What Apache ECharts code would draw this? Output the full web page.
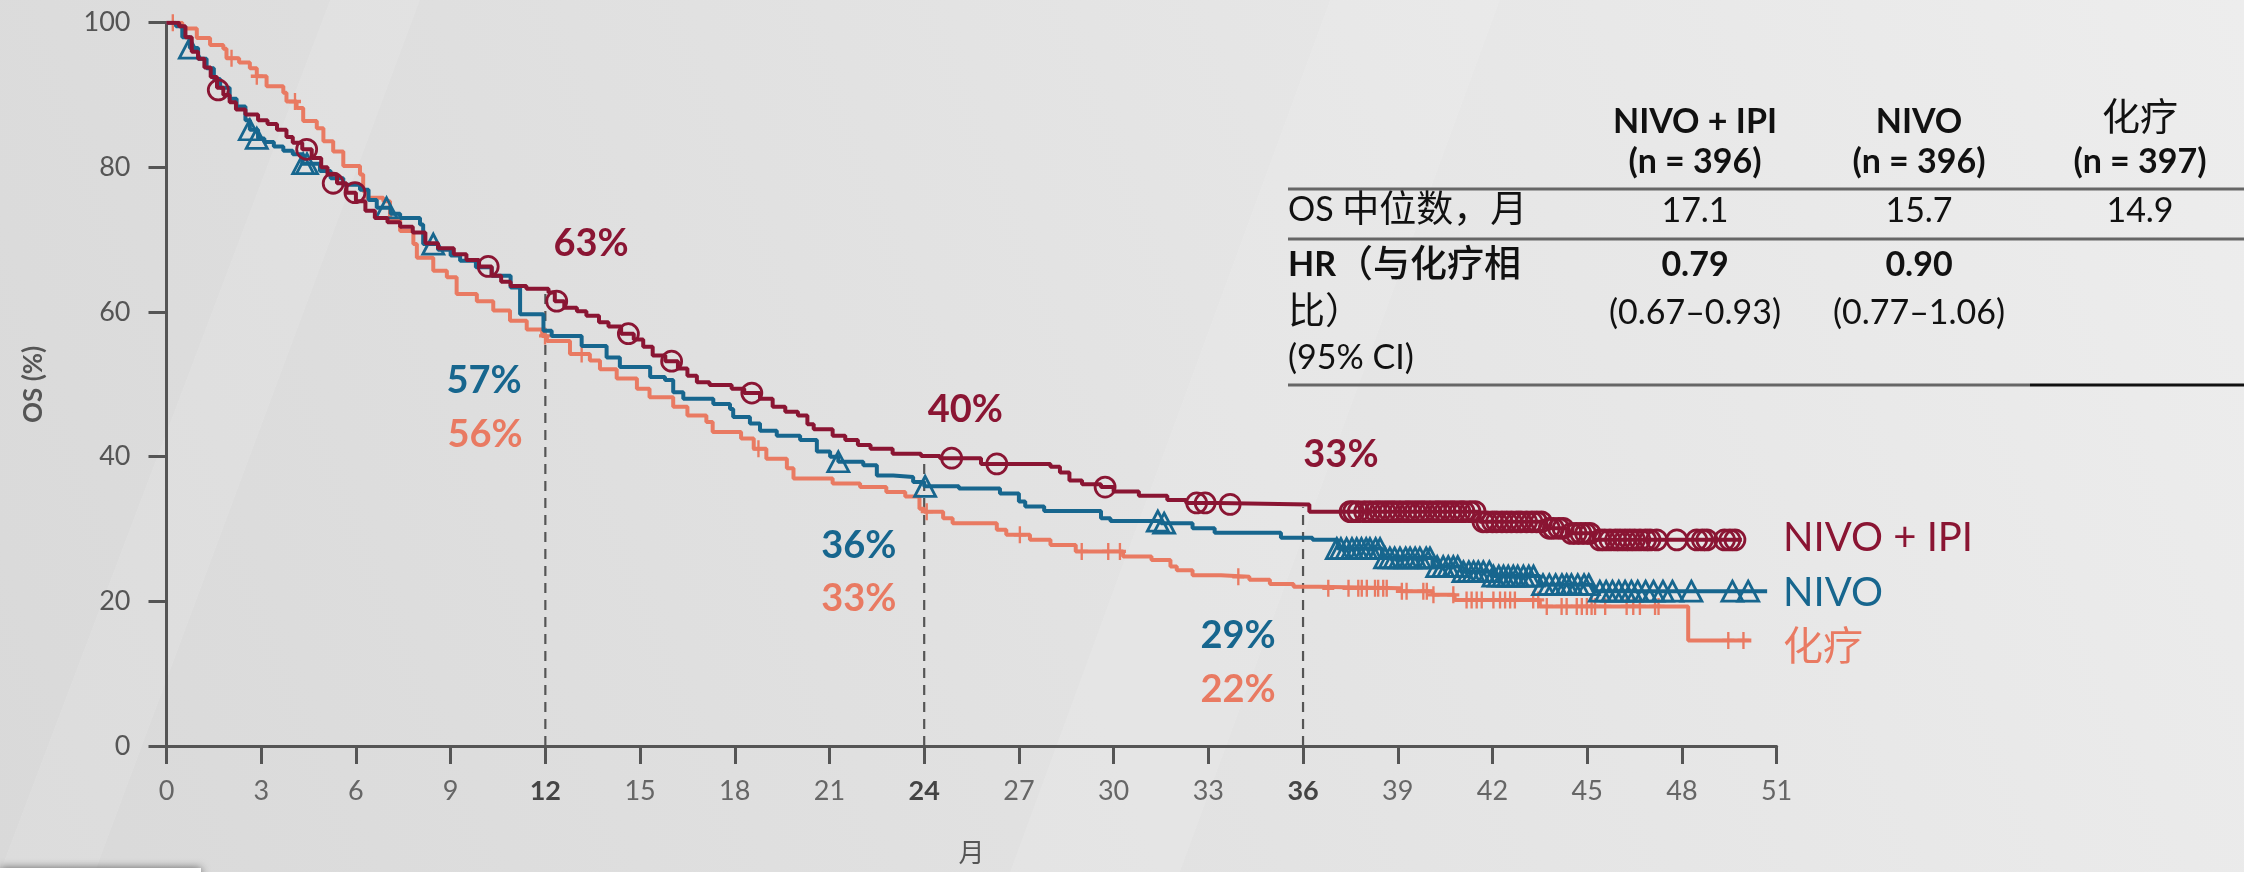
<!DOCTYPE html>
<html>
<head>
<meta charset="utf-8">
<script src="https://cdn.jsdelivr.net/npm/echarts@6/dist/echarts.min.js"></script>
<style>
  html, body { margin: 0; padding: 0; }
  #chart { width: 2244px; height: 872px; }
</style>
</head>
<body>
<div id="chart"></div>
<script>
// KM curves: [month, OS %] after each drop
const ipiCurve = [[0,100],[0.4,99.5],[0.6,98],[0.8,96],[1.0,95],[1.2,93.8],[1.4,92.5],[1.6,91],[1.8,90],[2.0,89],[2.2,88],[2.5,87.3],[2.9,86.5],[3.2,86],[3.5,85.2],[3.8,84.2],[4.0,83.4],[4.3,82.5],[4.6,81.3],[4.9,80],[5.1,79],[5.4,77.8],[5.7,76.5],[6.0,75.3],[6.3,74],[6.6,73],[7.0,72.4],[7.4,71.8],[7.8,71],[8.2,69.5],[8.6,68.8],[9.1,68],[9.5,67.2],[9.9,66.3],[10.3,65],[10.6,64.2],[10.9,63.6],[11.4,63.2],[12.1,62.7],[12.3,61.5],[12.6,60.6],[13.0,60.1],[13.3,59.5],[13.7,58.6],[14.0,58],[14.4,57],[14.8,56.2],[15.1,55.2],[15.4,54],[15.8,53.2],[16.2,52.2],[16.5,51.2],[16.8,50.3],[17.2,49.9],[17.9,49.4],[18.3,48.8],[18.8,48],[19.2,46.9],[19.6,46.2],[20.0,45.7],[20.3,44.5],[20.5,43.8],[21.1,42.9],[21.5,42.3],[21.9,41.6],[22.3,41.1],[23.0,40.4],[23.9,40.1],[24.5,39.8],[25.8,39.0],[28.0,38.6],[28.3,37.8],[28.6,36.7],[29.0,36.2],[29.6,35.8],[30.0,35.2],[30.8,34.6],[31.7,34.0],[32.3,33.6],[33.3,33.4],[36.2,32.4],[41.6,31.0],[43.7,30.1],[44.4,29.4],[45.2,28.5],[49.9,28.5]];
const nivoCurve = [[0,100],[0.3,99.5],[0.5,98],[0.74,96.5],[1.0,95],[1.27,93.7],[1.5,92.2],[1.7,91],[2.0,89.5],[2.22,88.4],[2.5,86.5],[2.64,85.2],[2.9,84],[3.1,83.5],[3.4,82.9],[3.7,82.3],[4.0,81.8],[4.3,80.5],[4.86,79.5],[5.2,78.5],[5.6,77.6],[6.13,76.9],[6.4,75.5],[6.66,74.4],[7.1,73.6],[7.4,73],[8.03,72.1],[8.13,69.4],[8.6,68.6],[9.0,67.8],[9.3,67.1],[9.8,66.2],[10.3,65],[10.9,63.4],[11.2,59.7],[11.94,57.4],[12.2,56.7],[13.15,55.3],[13.94,53.7],[14.36,52.4],[15.32,51.0],[15.79,50.6],[16.05,48.9],[16.37,48.0],[17.32,47.3],[17.85,46.6],[17.95,45.5],[18.48,44.6],[18.8,43.6],[19.33,42.9],[20.07,42.3],[20.6,40.7],[21.02,40.0],[21.28,39.3],[22.07,38.8],[22.5,37.4],[23.02,37.2],[23.65,36.5],[24.0,35.9],[25.1,35.6],[26.4,34.9],[27.0,33.8],[27.2,33.1],[27.8,32.5],[29.6,31.5],[29.9,31.1],[31.5,30.8],[32.5,30.1],[33.2,29.5],[35.3,28.8],[36.3,28.5],[37.1,27.3],[38.5,26.0],[40.1,24.8],[41.0,24.1],[42.0,23.5],[43.5,22.3],[45.2,21.4],[50.7,21.4]];
const chemoCurve = [[0,100],[0.5,99.2],[0.96,97.9],[1.38,96.9],[1.8,96.4],[1.9,95.1],[2.3,94.5],[2.64,93.7],[2.86,92.6],[3.17,91.2],[3.7,90.3],[3.8,89.1],[4.12,88.2],[4.33,86.4],[4.76,85.4],[4.97,83.6],[5.28,82.2],[5.6,80.2],[6.13,79.0],[6.23,76.7],[6.34,75.8],[6.87,75.3],[7.08,72.8],[7.4,71.2],[7.82,69.4],[7.93,67.5],[8.45,65.7],[8.88,64.8],[9.19,62.5],[9.83,61.5],[10.35,60.2],[10.88,58.8],[11.41,57.6],[11.9,56.7],[12.05,56.0],[12.78,54.2],[13.41,53.3],[13.73,52.1],[14.26,50.8],[14.9,49.4],[15.3,48.2],[16.05,46.9],[16.5,45.7],[17.1,44.8],[17.3,43.4],[18.2,42.5],[18.6,41.1],[19.0,39.7],[19.65,38.4],[19.86,37.0],[21.1,36.3],[21.97,35.8],[22.8,35.1],[23.4,34.5],[23.85,32.8],[24.0,32.4],[24.6,31.5],[24.9,30.8],[26.3,29.9],[26.6,29.2],[27.35,28.5],[28.0,27.8],[28.8,26.9],[30.3,26.2],[31.2,25.7],[31.8,24.8],[32.0,24.3],[32.5,23.6],[33.4,23.4],[34.3,23.0],[34.95,22.4],[35.7,22.0],[36.5,21.8],[39.1,21.4],[40.1,20.9],[40.8,20.2],[43.5,19.3],[48.2,14.6],[50.2,14.6]];

// censored patients
const ipiCensor = [[1.64,90.7],[4.44,82.5],[5.28,77.8],[5.97,76.5],[10.19,66.3],[12.36,61.5],[14.63,57],[16.0,53.2],[18.54,48.8],[24.87,39.8],[26.3,39.0],[29.73,35.8],[32.63,33.6],[32.9,33.6],[33.69,33.4],
  [37.49,32.4],[37.6,32.4],[37.75,32.4],[37.95,32.4],[38.12,32.4],[38.3,32.4],[38.44,32.4],[38.6,32.4],[38.75,32.4],[38.9,32.4],[39.07,32.4],[39.25,32.4],[39.39,32.4],[39.55,32.4],[39.7,32.4],[39.85,32.4],[40.02,32.4],[40.2,32.4],[40.34,32.4],[40.5,32.4],[40.66,32.4],[40.8,32.4],[40.97,32.4],[41.1,32.4],[41.29,32.4],[41.45,32.4],
  [41.7,31.0],[41.82,31.0],[42.0,31.0],[42.13,31.0],[42.3,31.0],[42.45,31.0],[42.6,31.0],[42.77,31.0],[42.9,31.0],[43.08,31.0],[43.25,31.0],[43.4,31.0],[43.55,31.0],
  [43.8,30.1],[43.93,30.1],[44.1,30.1],[44.24,30.1],[44.5,29.4],[44.65,29.4],[44.8,29.4],[44.95,29.4],[45.09,29.4],
  [45.4,28.5],[45.55,28.5],[45.72,28.5],[45.9,28.5],[46.04,28.5],[46.2,28.5],[46.35,28.5],[46.5,28.5],[46.67,28.5],[46.85,28.5],[46.99,28.5],[47.2,28.5],[47.84,28.5],[48.47,28.5],[48.65,28.5],[48.79,28.5],[49.35,28.5],[49.52,28.5],[49.68,28.5]];
const nivoCensor = [[0.74,96.5],[2.64,85.2],[2.86,84],[4.33,80.5],[4.45,80.5],[6.97,74.4],[8.45,69.4],[21.28,39.3],[24.03,35.9],[31.4,31.1],[31.6,30.8],
  [37.07,27.3],[37.2,27.3],[37.38,27.3],[37.55,27.3],[37.7,27.3],[37.85,27.3],[38.0,27.3],[38.12,27.3],[38.3,27.3],[38.44,27.3],
  [38.6,26.0],[38.75,26.0],[38.9,26.0],[39.07,26.0],[39.25,26.0],[39.39,26.0],[39.55,26.0],[39.7,26.0],[39.9,26.0],[40.02,26.0],
  [40.25,24.8],[40.44,24.8],[40.6,24.8],[40.76,24.8],[40.9,24.8],[41.08,24.1],[41.25,24.1],[41.4,24.1],[41.55,24.1],[41.71,24.1],[41.9,24.1],
  [42.03,23.5],[42.2,23.5],[42.35,23.5],[42.5,23.5],[42.66,23.5],[42.8,23.5],[42.98,23.5],[43.15,23.5],[43.3,23.5],
  [43.6,22.3],[43.8,22.3],[44.0,22.3],[44.2,22.3],[44.35,22.3],[44.5,22.3],[44.7,22.3],[44.9,22.3],[45.05,22.3],
  [45.4,21.4],[45.6,21.4],[45.8,21.4],[46.0,21.4],[46.2,21.4],[46.4,21.4],[46.6,21.4],[46.85,21.4],[47.1,21.4],[47.4,21.4],[47.7,21.4],[48.3,21.4],[49.6,21.4],[50.1,21.4]];
const chemoCensor = [[0.2,100],[2.06,95.1],[2.86,92.6],[4.07,89.1],[11.99,56.7],[13.15,54.2],[18.75,41.1],[24.08,32.4],[27.03,29.2],[28.99,26.9],[29.83,26.9],[30.2,26.9],[33.95,23.4],
  [36.8,21.8],[37.44,21.8],[37.75,21.8],[37.86,21.8],[38.02,21.8],[38.28,21.8],[38.38,21.8],[38.54,21.8],[38.65,21.8],[39.13,21.4],[39.28,21.4],[39.81,21.4],[39.92,21.4],[40.13,20.9],[40.76,20.9],
  [41.18,20.2],[41.34,20.2],[41.5,20.2],[41.66,20.2],[42.03,20.2],[42.24,20.2],[42.4,20.2],[42.56,20.2],[42.71,20.2],[43.29,20.2],[43.45,20.2],
  [43.72,19.3],[44.19,19.3],[44.35,19.3],[44.67,19.3],[44.83,19.3],[44.99,19.3],[45.14,19.3],[45.25,19.3],[45.57,19.3],[46.25,19.3],[46.46,19.3],[46.67,19.3],[47.15,19.3],[47.26,19.3],
  [49.47,14.6],[49.95,14.6]];

// landmark rates at 12 / 24 / 36 months
const landmarks = [12, 24, 36];
const ipiRates = [63, 40, 33];
const nivoRates = [57, 36, 29];
const chemoRates = [56, 33, 22];

const armNames = ['NIVO + IPI', 'NIVO', '化疗'];
const armN = ['(n = 396)', '(n = 396)', '(n = 397)'];
const medianOS = ['17.1', '15.7', '14.9'];
const hrValues = ['0.79', '0.90'];
const hrCI = ['(0.67–0.93)', '(0.77–1.06)'];

const RED = '#8a1533', BLUE = '#17668e', SALMON = '#e97a62';
const FONT = 'Lato, "Noto Sans CJK SC", sans-serif';

// where the landmark labels sit (month, OS) per arm
const ipiNotePos = [[13.45, 69.5], [25.3, 46.5], [37.2, 40.3]];
const nivoNotePos = [[10.06, 50.5], [21.93, 27.7], [33.94, 15.3]];
const chemoNotePos = [[10.09, 43.0], [21.93, 20.3], [33.94, 7.8]];
const endLabelPos = [[51.2, 28.7], [51.2, 21.1], [51.2, 13.7]];

function notes(pos, rates) {
  return pos.map((p, i) => [p[0], p[1], rates[i]]);
}

const chart = echarts.init(document.getElementById('chart'));

const series = [];
landmarks.forEach((m, i) => {
  series.push({
    type: 'line', data: [[m, 0], [m, ipiRates[i]]], showSymbol: false, silent: true, z: 1,
    lineStyle: { color: '#555', width: 2.2, type: [10, 7] }
  });
});

function curve(data, color, z) {
  return { type: 'line', step: 'end', data: data, showSymbol: false, z: z,
    lineStyle: { color: color, width: 4 } };
}
function censor(data, color, symbol, size, z) {
  return { type: 'scatter', data: data, symbol: symbol, symbolSize: size, z: z,
    itemStyle: { color: 'rgba(0,0,0,0)', borderColor: color, borderWidth: 2.8, opacity: 1 } };
}
function noteSeries(data, color, fmt) {
  return { type: 'scatter', data: data, symbolSize: 0, z: 10, itemStyle: { opacity: 1 },
    label: { show: true, position: 'inside', formatter: fmt, color: color,
      fontFamily: FONT, fontWeight: 'bold', fontSize: 38 } };
}

series.push(curve(chemoCurve, SALMON, 2));
series.push(censor(chemoCensor, SALMON, 'path://M0,5H10M5,0V10', [12, 17], 2));
series.push(curve(nivoCurve, BLUE, 3));
series.push(censor(nivoCensor, BLUE, 'triangle', [21, 20], 3));
series.push(curve(ipiCurve, RED, 4));
series.push(censor(ipiCensor, RED, 'circle', 20, 4));
series.push(noteSeries(notes(ipiNotePos, ipiRates), RED, p => p.value[2] + '%'));
series.push(noteSeries(notes(nivoNotePos, nivoRates), BLUE, p => p.value[2] + '%'));
series.push(noteSeries(notes(chemoNotePos, chemoRates), SALMON, p => p.value[2] + '%'));
[RED, BLUE, SALMON].forEach((c, i) => {
  series.push({ type: 'scatter', data: [endLabelPos[i]], symbolSize: 0, z: 10, clip: false,
    itemStyle: { opacity: 1 },
    label: { show: true, position: 'right', distance: 0, formatter: armNames[i], color: c,
      fontFamily: FONT, fontSize: 40 } });
});

// table drawn with graphic elements
const colX = [1695, 1919, 2140];
const tLeft = 1288;
const base = { fontFamily: FONT, fontSize: 34, fill: '#111' };
const g = [];
function txt(text, x, y, extra) {
  g.push({ type: 'text', x: x, y: y, z: 20,
    style: Object.assign({ text: text, align: 'center', verticalAlign: 'middle' }, base, extra || {}) });
}
function hline(x1, x2, y, color, w) {
  g.push({ type: 'line', z: 20, shape: { x1: x1, y1: y, x2: x2, y2: y }, style: { stroke: color, lineWidth: w } });
}
armNames.forEach((n, i) => {
  if (i === 2) txt(n, colX[i], 118, { fontSize: 38 });
  else txt(n, colX[i], 122, { fontWeight: 'bold' });
  txt(armN[i], colX[i], 162, { fontWeight: 'bold' });
  txt(medianOS[i], colX[i], 211);
});
hrValues.forEach((v, i) => {
  txt(v, colX[i], 265, { fontWeight: 'bold' });
  txt(hrCI[i], colX[i], 313);
});
txt('{a|OS }{c|中位数，月}', tLeft, 210, { align: 'left',
  rich: { a: { fontFamily: FONT, fontSize: 34, fill: '#111' }, c: { fontFamily: FONT, fontSize: 37, fill: '#111' } } });
txt('{a|HR}{c|（与化疗相}', tLeft, 265, { align: 'left',
  rich: { a: { fontFamily: FONT, fontSize: 34, fontWeight: 'bold', fill: '#111' }, c: { fontFamily: FONT, fontSize: 37, fontWeight: 500, fill: '#111' } } });
txt('比）', tLeft, 312, { align: 'left', fontSize: 37 });
txt('(95% CI)', tLeft, 358, { align: 'left' });
hline(tLeft, 2244, 189, '#666', 3);
hline(tLeft, 2244, 239, '#666', 3);
hline(tLeft, 2030, 385, '#666', 3);
hline(2030, 2244, 385, '#111', 3);

// faint diagonal light bands of the slide background
g.push({ type: 'polygon', z: -10, silent: true, shape: { points: [[0, 872], [95, 872], [420, 0], [330, 0]] },
  style: { fill: 'rgba(255,255,255,0.10)' } });
g.push({ type: 'polygon', z: -10, silent: true, shape: { points: [[1010, 872], [1180, 872], [1500, 0], [1330, 0]] },
  style: { fill: 'rgba(255,255,255,0.10)' } });
g.push({ type: 'rect', z: 30, shape: { x: 0, y: 868, width: 201, height: 10 },
  style: { fill: '#fff', shadowBlur: 8, shadowColor: 'rgba(0,0,0,0.55)' } });

chart.setOption({
  animation: false,
  backgroundColor: new echarts.graphic.LinearGradient(1, 0, 0, 1, [
    { offset: 0, color: '#ededed' }, { offset: 1, color: '#d9d9d9' }
  ]),
  grid: { left: 166.5, right: 467.4, top: 22.7, bottom: 123.7 },
  xAxis: {
    type: 'value', min: 0, max: 51, interval: 3,
    name: '月', nameLocation: 'middle', nameGap: 95,
    nameTextStyle: { fontFamily: FONT, fontSize: 26, color: '#555' },
    axisLine: { show: true, lineStyle: { color: '#555', width: 3 } },
    axisTick: { show: true, length: 18, lineStyle: { color: '#555', width: 3 } },
    axisLabel: {
      margin: 32,
      formatter: v => landmarks.indexOf(v) >= 0 ? '{b|' + v + '}' : '{n|' + v + '}',
      rich: {
        b: { fontFamily: FONT, fontSize: 27, fontWeight: 'bold', color: '#444' },
        n: { fontFamily: FONT, fontSize: 27, color: '#666' }
      }
    },
    splitLine: { show: false }
  },
  yAxis: {
    type: 'value', min: 0, max: 100, interval: 20,
    name: 'OS (%)', nameLocation: 'middle', nameGap: 120,
    nameTextStyle: { fontFamily: FONT, fontSize: 26, fontWeight: 'bold', color: '#555' },
    axisLine: { show: true, lineStyle: { color: '#555', width: 3 } },
    axisTick: { show: true, length: 18, lineStyle: { color: '#555', width: 3 } },
    axisLabel: { margin: 36, fontFamily: FONT, fontSize: 27, color: '#555' },
    splitLine: { show: false }
  },
  graphic: g,
  series: series
});
</script>
</body>
</html>
